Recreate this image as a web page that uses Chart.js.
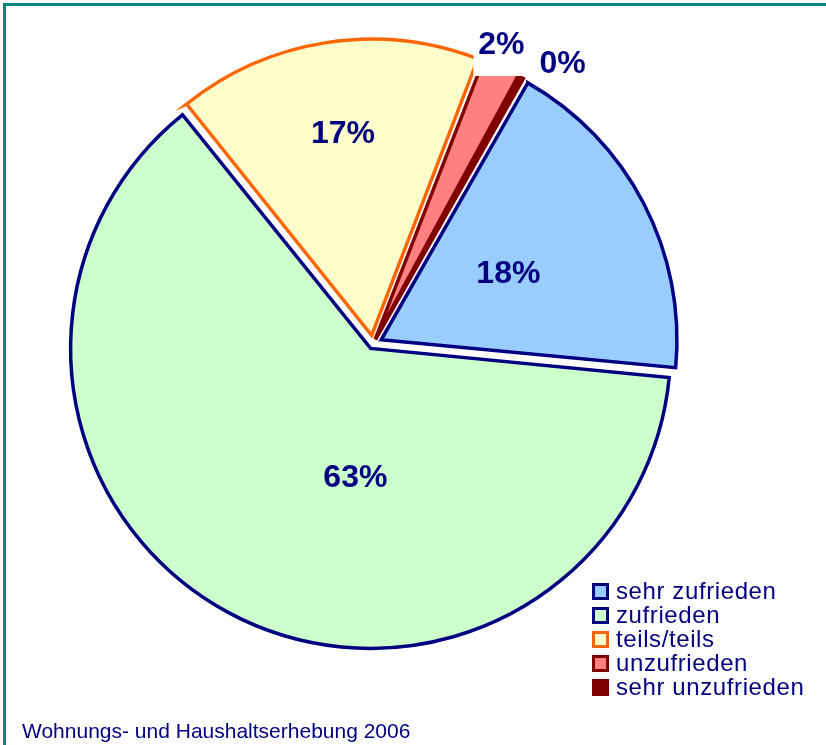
<!DOCTYPE html>
<html>
<head>
<meta charset="utf-8">
<script src="https://cdn.jsdelivr.net/npm/chart.js@4"></script>
<style>
html, body { margin: 0; padding: 0; background: #fff; overflow: hidden; }
#wrap { position: relative; width: 826px; height: 745px; overflow: hidden; }
#frame { position: absolute; left: 3px; top: 3px; width: 900px; height: 900px;
  border-top: 3px solid #008080; border-left: 3px solid #008080; box-sizing: border-box; }
#chart { position: absolute; left: 0; top: 0; }
#legend { position: absolute; left: 592px; top: 579px;
  font-family: "Liberation Sans", Arial, sans-serif; font-size: 24px; letter-spacing: 0.6px;
  color: #000080; }
.item { display: flex; align-items: center; height: 24px; white-space: nowrap; }
.sw { width: 11px; height: 11px; border: 3px solid; margin-right: 7px; flex: none; }
#caption { position: absolute; left: 22px; top: 719px; line-height: 24px;
  font-family: "Liberation Sans", Arial, sans-serif; font-size: 21px; color: #000080; white-space: nowrap; }
</style>
</head>
<body>
<div id="wrap">
  <div id="frame"></div>
  <canvas id="chart" width="826" height="745"></canvas>
  <div id="legend"></div>
  <div id="caption">Wohnungs- und Haushaltserhebung 2006</div>
</div>
<script>
// ---- data ----
const categories = ["sehr zufrieden", "zufrieden", "teils/teils", "unzufrieden", "sehr unzufrieden"];
const values = [18.26, 62.74, 16.6, 2.1, 0.3];
const sourceNote = "Wohnungs- und Haushaltserhebung 2006";

// ---- styles ----
const fillColors = ["#99CCFF", "#CCFFCC", "#FFFFCC", "#FF8080", "#800000"];
const borderColors = ["#000080", "#000080", "#FF6600", "#800000", "#800000"];
const sliceOffsets = [36.8, 20, 35.2, 21.4, 20.2];
const labelRadius = [0.517, 0.46, 0.72, 1.103, 1.147];
const labelAngleShift = [0, -20.9, 0.7, -1.6, 4.9];
const labelBoxed = [false, false, false, true, false];

document.getElementById('caption').textContent = sourceNote;

const legendEl = document.getElementById('legend');
categories.forEach((c, i) => {
  const item = document.createElement('div');
  item.className = 'item';
  const sw = document.createElement('span');
  sw.className = 'sw';
  sw.style.background = fillColors[i];
  sw.style.borderColor = borderColors[i];
  const t = document.createElement('span');
  t.textContent = c;
  item.appendChild(sw);
  item.appendChild(t);
  legendEl.appendChild(item);
});

const labelPlugin = {
  id: 'pctLabels',
  afterDatasetsDraw(chart) {
    const ctx = chart.ctx;
    const meta = chart.getDatasetMeta(0);
    ctx.save();
    ctx.font = 'bold 32px "Liberation Sans", Arial, sans-serif';
    ctx.textAlign = 'center';
    ctx.textBaseline = 'middle';
    meta.data.forEach((arc, i) => {
      const p = arc.getProps(['x', 'y', 'startAngle', 'endAngle', 'outerRadius'], true);
      const mid = (p.startAngle + p.endAngle) / 2 + labelAngleShift[i] * Math.PI / 180;
      const r = p.outerRadius * labelRadius[i];
      const x = p.x + Math.cos(mid) * r;
      const y = p.y + Math.sin(mid) * r;
      const text = Math.round(values[i]) + '%';
      if (labelBoxed[i]) {
        ctx.fillStyle = '#FFFFFF';
        ctx.fillRect(x - 28, y - 22, 54, 53);
      }
      ctx.fillStyle = '#000080';
      ctx.fillText(text, x, y);
    });
    ctx.restore();
  }
};

new Chart(document.getElementById('chart'), {
  type: 'pie',
  data: {
    labels: categories,
    datasets: [{
      data: values,
      backgroundColor: fillColors,
      borderColor: borderColors,
      borderWidth: 3.5,
      borderJoinStyle: 'miter',
      offset: sliceOffsets,
      clip: false
    }]
  },
  options: {
    responsive: false,
    animation: false,
    events: [],
    rotation: 29.7,
    radius: 295,
    layout: { padding: { left: 0, top: 0, right: 80, bottom: 57 } },
    plugins: {
      legend: { display: false },
      tooltip: { enabled: false },
      title: { display: false }
    }
  },
  plugins: [labelPlugin]
});
</script>
</body>
</html>
